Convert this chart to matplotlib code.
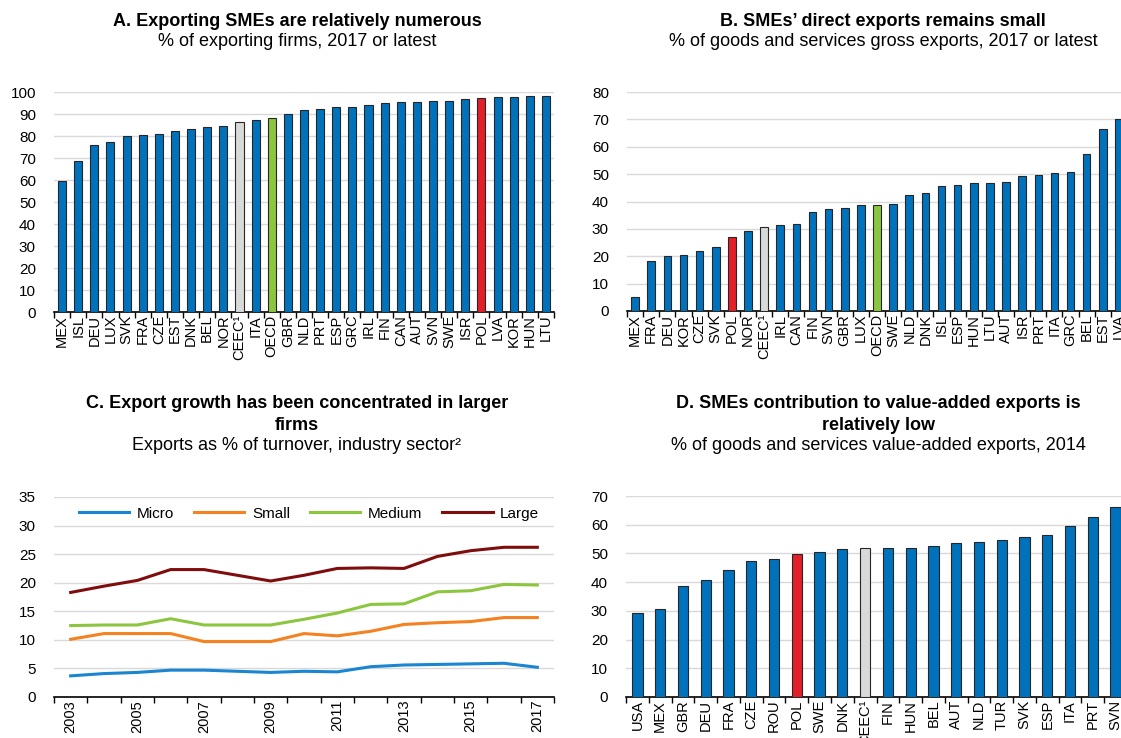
import matplotlib
matplotlib.use("Agg")
import matplotlib.pyplot as plt
import numpy as np

plt.rcParams['font.family'] = ['Liberation Sans', 'DejaVu Sans']

# ---- Data ----
a_countries = ["MEX", "ISL", "DEU", "LUX", "SVK", "FRA", "CZE", "EST", "DNK", "BEL", "NOR", "CEEC¹",
               "ITA", "OECD", "GBR", "NLD", "PRT", "ESP", "GRC", "IRL", "FIN", "CAN", "AUT", "SVN",
               "SWE", "ISR", "POL", "LVA", "KOR", "HUN", "LTU"]
a_values = [59.5, 68.5, 76.0, 77.5, 80.0, 80.3, 80.7, 82.5, 83.0, 84.0, 84.5, 86.3,
            87.2, 88.4, 89.8, 92.0, 92.2, 93.0, 93.2, 94.0, 95.2, 95.3, 95.6, 95.7,
            96.1, 97.0, 97.2, 97.8, 97.9, 98.2, 98.3]

b_countries = ["MEX", "FRA", "DEU", "KOR", "CZE", "SVK", "POL", "NOR", "CEEC¹", "IRL", "CAN", "FIN",
               "SVN", "GBR", "LUX", "OECD", "SWE", "NLD", "DNK", "ISL", "ESP", "HUN", "LTU", "AUT",
               "ISR", "PRT", "ITA", "GRC", "BEL", "EST", "LVA"]
b_values = [5.2, 18.2, 20.0, 20.5, 22.0, 23.3, 27.0, 29.3, 30.6, 31.5, 31.6, 36.0,
            37.3, 37.6, 38.9, 38.9, 39.1, 42.5, 43.2, 45.8, 46.0, 46.7, 46.8, 47.3,
            49.2, 49.8, 50.5, 50.7, 57.2, 66.4, 70.2]

years = list(range(2003, 2018))
micro = [3.7, 4.1, 4.3, 4.7, 4.7, 4.5, 4.3, 4.5, 4.4, 5.3, 5.6, 5.7, 5.8, 5.9, 5.2]
small = [10.1, 11.1, 11.1, 11.1, 9.7, 9.7, 9.7, 11.1, 10.7, 11.5, 12.7, 13.0, 13.2, 13.9, 13.9]
medium = [12.5, 12.6, 12.6, 13.7, 12.6, 12.6, 12.6, 13.6, 14.7, 16.2, 16.3, 18.4, 18.6, 19.7, 19.6]
large = [18.3, 19.4, 20.4, 22.3, 22.3, 21.3, 20.3, 21.3, 22.5, 22.6, 22.5, 24.6, 25.6, 26.2, 26.2]

d_countries = ["USA", "MEX", "GBR", "DEU", "FRA", "CZE", "ROU", "POL", "SWE", "DNK", "CEEC¹", "FIN",
               "HUN", "BEL", "AUT", "NLD", "TUR", "SVK", "ESP", "ITA", "PRT", "SVN"]
d_values = [29.3, 30.8, 38.8, 40.9, 44.3, 47.5, 48.0, 49.7, 50.4, 51.7, 51.9, 51.9,
            52.0, 52.7, 53.5, 53.9, 54.6, 55.8, 56.5, 59.7, 62.7, 66.0]

# ---- Style ----
BLUE = "#0072BC"
RED = "#E3202A"
GREEN = "#8CC63F"
GREY = "#D9D9D9"
GRID = "#D9D9D9"
FS = 11       # y tick labels / legend
XFS = 10.5    # rotated x tick labels
TFS = 13      # titles

W, H = 1121, 738
fig = plt.figure(figsize=(W / 100, H / 100), dpi=100)


def ax_at(x0, y0, x1, y1):
    return fig.add_axes([x0 / W, 1 - y1 / H, (x1 - x0) / W, (y1 - y0) / H])


def colors_for(names):
    out = []
    for n in names:
        if n == "POL":
            out.append(RED)
        elif n == "OECD":
            out.append(GREEN)
        elif n.startswith("CEEC"):
            out.append(GREY)
        else:
            out.append(BLUE)
    return out


def style_axes(ax, ymax, ystep):
    for s in ["top", "right", "left"]:
        ax.spines[s].set_visible(False)
    ax.spines["bottom"].set_linewidth(1.2)
    ax.set_ylim(0, ymax)
    ax.set_yticks(np.arange(0, ymax + 0.1, ystep))
    ax.yaxis.grid(True, color=GRID, linewidth=1.0)
    ax.set_axisbelow(True)
    ax.tick_params(axis="y", length=0, labelsize=FS, pad=13)
    ax.tick_params(axis="x", which="major", length=0, labelsize=XFS, pad=2)
    ax.tick_params(axis="x", which="minor", length=4, width=1.0, direction="out")


def bar_panel(ax, names, values, ymax, ystep, width):
    x = np.arange(len(names))
    ax.bar(x, values, width=width, color=colors_for(names), edgecolor="#262626", linewidth=0.8, zorder=3)
    ax.set_xlim(-0.5, len(names) - 0.5)
    style_axes(ax, ymax, ystep)
    ax.set_xticks(x)
    ax.set_xticklabels(names, rotation=90)
    ax.set_xticks(np.arange(-0.5, len(names), 1.0), minor=True)


# Panel A
axA = ax_at(54, 92, 554, 312)
bar_panel(axA, a_countries, a_values, 100, 10, 0.5)

# Panel B
axB = ax_at(627, 92, 1127, 311)
bar_panel(axB, b_countries, b_values, 80, 10, 0.47)

# Panel C
axC = ax_at(54, 497, 554, 697)
style_axes(axC, 35, 5)
lw = 2.2
axC.plot(years, micro, color="#1A85D0", lw=lw, label="Micro", zorder=3)
axC.plot(years, small, color="#F58220", lw=lw, label="Small", zorder=3)
axC.plot(years, medium, color="#8CC63F", lw=lw, label="Medium", zorder=3)
axC.plot(years, large, color="#7F0D0D", lw=lw, label="Large", zorder=3)
axC.set_xlim(years[0] - 0.5, years[-1] + 0.5)
axC.set_xticks(years[::2])
axC.set_xticklabels([str(y) for y in years[::2]], rotation=90)
axC.set_xticks(np.arange(years[0] - 0.5, years[-1] + 1, 1.0), minor=True)
axC.legend(loc="upper center", bbox_to_anchor=(0.51, 1.02), ncol=4, frameon=False, fontsize=FS,
           handlelength=3.3, columnspacing=1.3, handletextpad=0.5)

# Panel D
axD = ax_at(626, 496, 1127, 697)
bar_panel(axD, d_countries, d_values, 70, 10, 0.45)

# Titles
def title(x, ys, lines):
    for i, (txt, bold) in enumerate(lines):
        fig.text(x / W, 1 - ys[i] / H, txt, ha="center", va="center", fontsize=TFS,
                 fontweight="bold" if bold else "normal")

title(297, [21, 41], [("A. Exporting SMEs are relatively numerous", True),
                      ("% of exporting firms, 2017 or latest", False)])
title(883, [21, 41], [("B. SMEs’ direct exports remains small", True),
                      ("% of goods and services gross exports, 2017 or latest", False)])
title(297, [404, 425, 446], [("C. Export growth has been concentrated in larger", True),
                             ("firms", True),
                             ("Exports as % of turnover, industry sector²", False)])
title(878, [404, 425, 446], [("D. SMEs contribution to value-added exports is", True),
                             ("relatively low", True),
                             ("% of goods and services value-added exports, 2014", False)])

fig.savefig("out.png", dpi=100)
